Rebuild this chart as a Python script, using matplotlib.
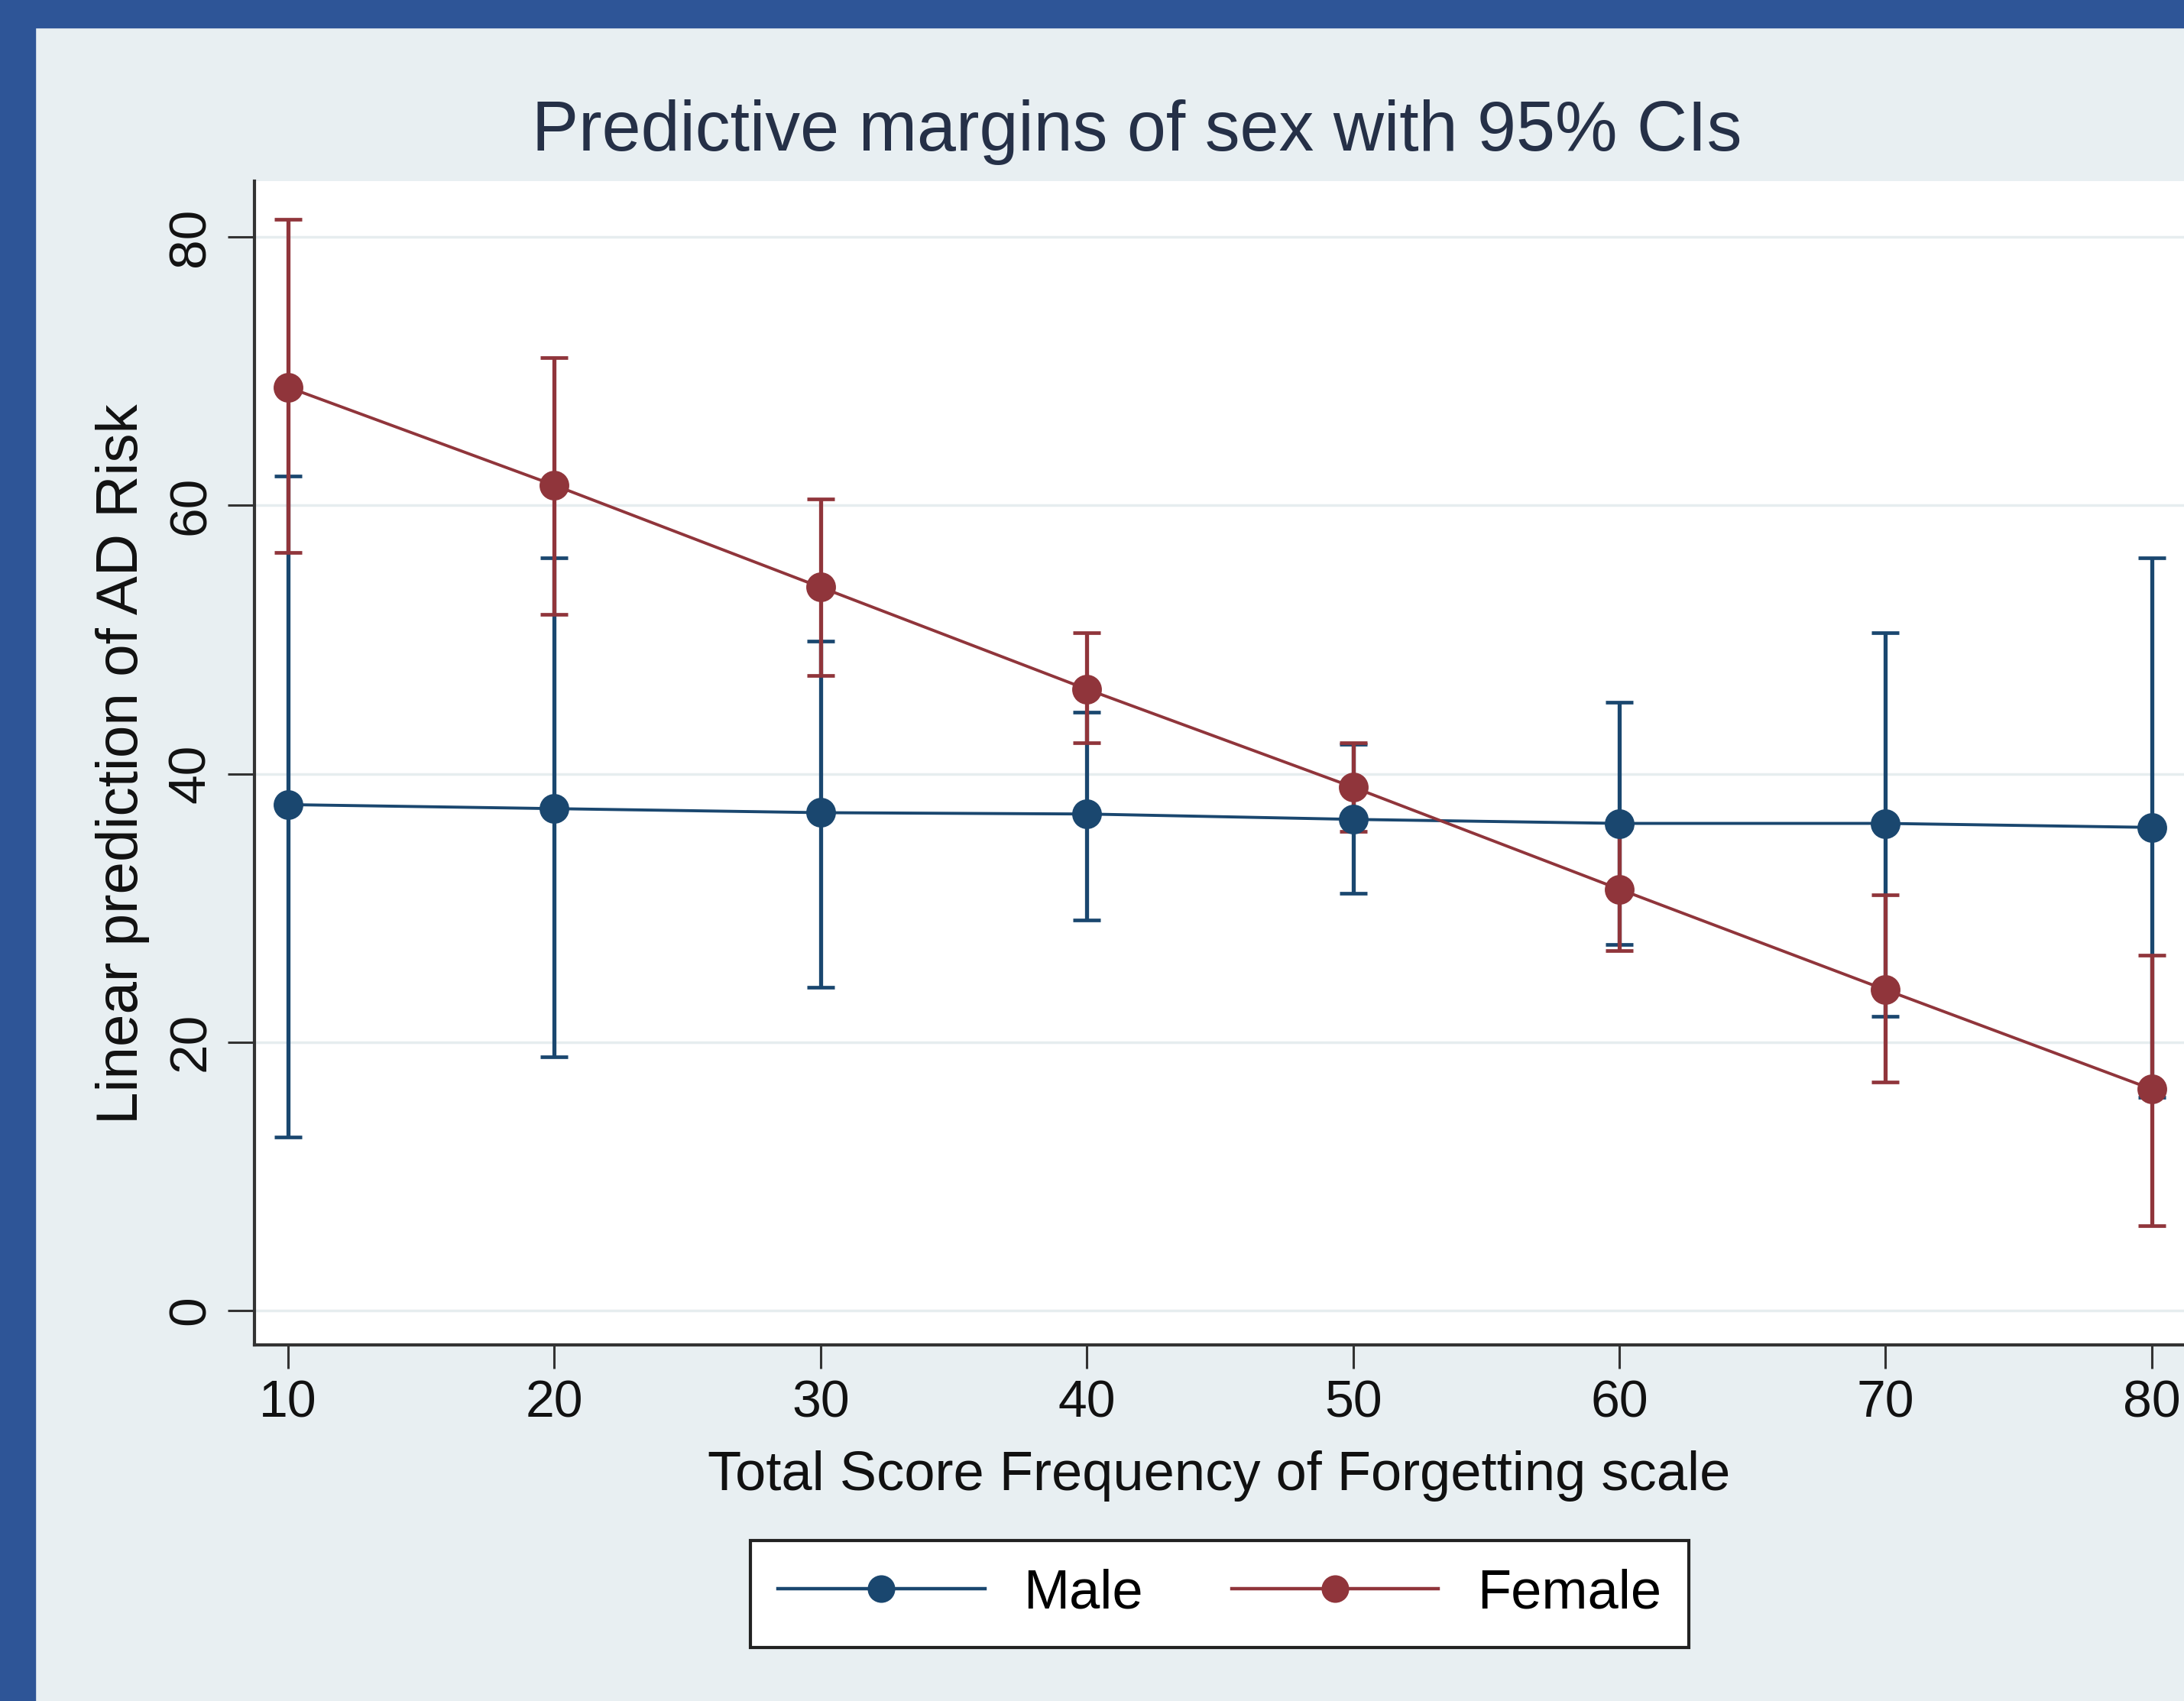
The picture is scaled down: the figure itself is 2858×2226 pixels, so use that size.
import numpy as np
import matplotlib
matplotlib.use('Agg')
import matplotlib.pyplot as plt
from matplotlib.patches import Rectangle

plt.rcParams['font.family'] = ['Liberation Sans', 'DejaVu Sans']

# data
scores = [10, 20, 30, 40, 50, 60, 70, 80]
male = [37.7, 37.4, 37.1, 37.0, 36.6, 36.3, 36.3, 36.0]
male_lo = [12.9, 18.9, 24.1, 29.1, 31.1, 27.3, 21.9, 15.9]
male_hi = [62.2, 56.1, 49.9, 44.6, 42.2, 45.3, 50.5, 56.1]
female = [68.8, 61.5, 53.9, 46.3, 39.0, 31.4, 23.9, 16.5]
female_lo = [56.5, 51.9, 47.3, 42.3, 35.7, 26.8, 17.0, 6.3]
female_hi = [81.3, 71.0, 60.5, 50.5, 42.3, 36.0, 31.0, 26.5]
series = ['Male', 'Female']
yticks = [0, 20, 40, 60, 80]

navy = '#1a476f'
maroon = '#90353b'
bg = '#e8eff2'
border = '#2e5597'

W, H = 2858, 2226
fig = plt.figure(figsize=(W / 100, H / 100), dpi=100, facecolor=bg)

# dark blue frame on top and left
fig.patches.append(Rectangle((0, 1 - 36 / H), 1, 36 / H, transform=fig.transFigure,
                             color=border, zorder=0))
fig.patches.append(Rectangle((0, 0), 46 / W, 1, transform=fig.transFigure,
                             color=border, zorder=0))

ax = fig.add_axes([333 / W, 1 - 1760 / H, 1 - 333 / W, (1760 - 237) / H])
ax.set_facecolor('white')

for vals, lo, hi, col in [(male, male_lo, male_hi, navy),
                          (female, female_lo, female_hi, maroon)]:
    v = np.array(vals)
    err = [v - np.array(lo), np.array(hi) - v]
    ax.errorbar(scores, v, yerr=err, fmt='none', ecolor=col, elinewidth=3.8,
                capsize=13, capthick=3.4, zorder=3)

for vals, col, name in [(male, navy, series[0]), (female, maroon, series[1])]:
    ax.plot(scores, vals, color=col, lw=2.8, marker='o', markersize=28,
            markeredgewidth=0, label=name, zorder=4)

ax.set_xlim(8.737, 81.21)
ax.set_ylim(-2.56, 84.16)
ax.set_xticks(scores)
ax.set_yticks(yticks)
ax.grid(axis='y', color='#e6edef', lw=2.5, zorder=0)
ax.set_axisbelow(True)

for s in ['top', 'right']:
    ax.spines[s].set_visible(False)
for s in ['left', 'bottom']:
    ax.spines[s].set_color('#333333')
    ax.spines[s].set_linewidth(3)

ax.tick_params(axis='x', length=22, width=2.2, color='#333333', pad=10,
               labelsize=49, labelcolor='#111111')
ax.tick_params(axis='y', length=25, width=2.2, color='#333333', pad=12,
               labelsize=50, labelcolor='#111111')
for lab in ax.get_yticklabels():
    lab.set_rotation(90)
    lab.set_va('center')

fig.text(1488 / W, 1 - 197 / H, 'Predictive margins of sex with 95% CIs',
         ha='center', va='baseline', fontsize=66, color='#253047')
fig.text(1595 / W, 1 - 1950 / H, 'Total Score Frequency of Forgetting scale',
         ha='center', va='baseline', fontsize=52, color='#111111')
fig.text(161 / W, 1 - 1000 / H, 'Linear prediction of AD Risk', rotation=90,
         ha='center', va='center', fontsize=55, color='#111111')

leg = ax.legend(loc='center', bbox_to_anchor=(1596 / W, 1 - 2086 / H),
                bbox_transform=fig.transFigure, ncol=2, fontsize=52,
                frameon=True, fancybox=False, edgecolor='#222222',
                facecolor='white', framealpha=1,
                handlelength=3.75, handletextpad=0.7, columnspacing=1.6,
                borderpad=0.5, borderaxespad=0)
leg.get_frame().set_linewidth(3)
for h in leg.legend_handles:
    h.set_markersize(26)
    h.set_linewidth(3.2)

fig.savefig('out.png', dpi=100, facecolor=bg)
